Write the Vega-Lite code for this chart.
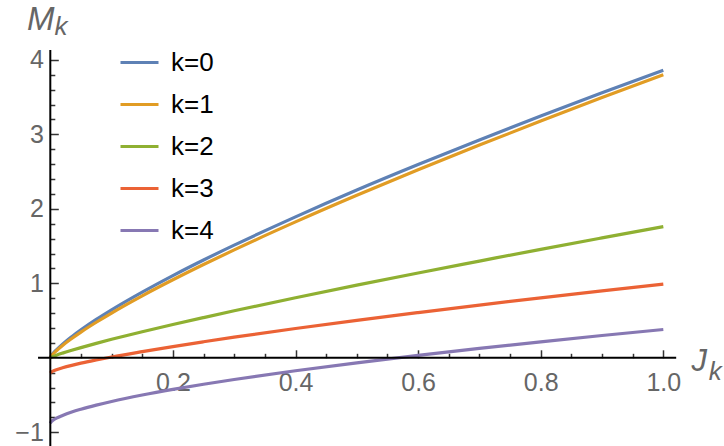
{
  "$schema": "https://vega.github.io/schema/vega-lite/v6.json",
  "width": 724,
  "height": 446,
  "padding": 0,
  "autosize": {"type": "none"},
  "background": "white",
  "config": {"view": {"stroke": null}, "font": "Liberation Sans"},
  "resolve": {"axis": {"x": "independent", "y": "independent"}},
  "datasets": {
    "curves": [
      {"J": 0, "M": 0, "k": "k=0"}, {"J": 0.001, "M": 0.018, "k": "k=0"}, {"J": 0.005, "M": 0.063, "k": "k=0"}, {"J": 0.01, "M": 0.107, "k": "k=0"}, {"J": 0.02, "M": 0.184, "k": "k=0"}, {"J": 0.035, "M": 0.284, "k": "k=0"}, {"J": 0.05, "M": 0.375, "k": "k=0"}, {"J": 0.075, "M": 0.515, "k": "k=0"}, {"J": 0.1, "M": 0.644, "k": "k=0"}, {"J": 0.15, "M": 0.882, "k": "k=0"}, {"J": 0.2, "M": 1.104, "k": "k=0"}, {"J": 0.25, "M": 1.313, "k": "k=0"}, {"J": 0.3, "M": 1.512, "k": "k=0"}, {"J": 0.4, "M": 1.892, "k": "k=0"}, {"J": 0.5, "M": 2.252, "k": "k=0"}, {"J": 0.6, "M": 2.594, "k": "k=0"}, {"J": 0.7, "M": 2.924, "k": "k=0"}, {"J": 0.8, "M": 3.245, "k": "k=0"}, {"J": 0.9, "M": 3.557, "k": "k=0"}, {"J": 1.0, "M": 3.86, "k": "k=0"},
      {"J": 0, "M": 0, "k": "k=1"}, {"J": 0.001, "M": 0.015, "k": "k=1"}, {"J": 0.005, "M": 0.055, "k": "k=1"}, {"J": 0.01, "M": 0.095, "k": "k=1"}, {"J": 0.02, "M": 0.166, "k": "k=1"}, {"J": 0.035, "M": 0.259, "k": "k=1"}, {"J": 0.05, "M": 0.345, "k": "k=1"}, {"J": 0.075, "M": 0.477, "k": "k=1"}, {"J": 0.1, "M": 0.601, "k": "k=1"}, {"J": 0.15, "M": 0.832, "k": "k=1"}, {"J": 0.2, "M": 1.047, "k": "k=1"}, {"J": 0.25, "M": 1.252, "k": "k=1"}, {"J": 0.3, "M": 1.449, "k": "k=1"}, {"J": 0.4, "M": 1.824, "k": "k=1"}, {"J": 0.5, "M": 2.181, "k": "k=1"}, {"J": 0.6, "M": 2.524, "k": "k=1"}, {"J": 0.7, "M": 2.855, "k": "k=1"}, {"J": 0.8, "M": 3.178, "k": "k=1"}, {"J": 0.9, "M": 3.493, "k": "k=1"}, {"J": 1.0, "M": 3.80, "k": "k=1"},
      {"J": 0, "M": 0, "k": "k=2"}, {"J": 0.001, "M": 0.005, "k": "k=2"}, {"J": 0.005, "M": 0.019, "k": "k=2"}, {"J": 0.01, "M": 0.035, "k": "k=2"}, {"J": 0.02, "M": 0.063, "k": "k=2"}, {"J": 0.035, "M": 0.101, "k": "k=2"}, {"J": 0.05, "M": 0.137, "k": "k=2"}, {"J": 0.075, "M": 0.194, "k": "k=2"}, {"J": 0.1, "M": 0.248, "k": "k=2"}, {"J": 0.15, "M": 0.350, "k": "k=2"}, {"J": 0.2, "M": 0.447, "k": "k=2"}, {"J": 0.25, "M": 0.540, "k": "k=2"}, {"J": 0.3, "M": 0.631, "k": "k=2"}, {"J": 0.4, "M": 0.806, "k": "k=2"}, {"J": 0.5, "M": 0.975, "k": "k=2"}, {"J": 0.6, "M": 1.139, "k": "k=2"}, {"J": 0.7, "M": 1.298, "k": "k=2"}, {"J": 0.8, "M": 1.456, "k": "k=2"}, {"J": 0.9, "M": 1.609, "k": "k=2"}, {"J": 1.0, "M": 1.76, "k": "k=2"},
      {"J": 0, "M": -0.205, "k": "k=3"}, {"J": 0.001, "M": -0.196, "k": "k=3"}, {"J": 0.005, "M": -0.176, "k": "k=3"}, {"J": 0.01, "M": -0.16, "k": "k=3"}, {"J": 0.02, "M": -0.134, "k": "k=3"}, {"J": 0.035, "M": -0.101, "k": "k=3"}, {"J": 0.05, "M": -0.072, "k": "k=3"}, {"J": 0.075, "M": -0.029, "k": "k=3"}, {"J": 0.1, "M": 0.011, "k": "k=3"}, {"J": 0.15, "M": 0.083, "k": "k=3"}, {"J": 0.2, "M": 0.151, "k": "k=3"}, {"J": 0.25, "M": 0.215, "k": "k=3"}, {"J": 0.3, "M": 0.277, "k": "k=3"}, {"J": 0.4, "M": 0.393, "k": "k=3"}, {"J": 0.5, "M": 0.503, "k": "k=3"}, {"J": 0.6, "M": 0.607, "k": "k=3"}, {"J": 0.7, "M": 0.708, "k": "k=3"}, {"J": 0.8, "M": 0.805, "k": "k=3"}, {"J": 0.9, "M": 0.899, "k": "k=3"}, {"J": 1.0, "M": 0.99, "k": "k=3"},
      {"J": 0, "M": -0.88, "k": "k=4"}, {"J": 0.001, "M": -0.864, "k": "k=4"}, {"J": 0.005, "M": -0.836, "k": "k=4"}, {"J": 0.01, "M": -0.811, "k": "k=4"}, {"J": 0.02, "M": -0.774, "k": "k=4"}, {"J": 0.035, "M": -0.728, "k": "k=4"}, {"J": 0.05, "M": -0.690, "k": "k=4"}, {"J": 0.075, "M": -0.635, "k": "k=4"}, {"J": 0.1, "M": -0.586, "k": "k=4"}, {"J": 0.15, "M": -0.500, "k": "k=4"}, {"J": 0.2, "M": -0.424, "k": "k=4"}, {"J": 0.25, "M": -0.355, "k": "k=4"}, {"J": 0.3, "M": -0.291, "k": "k=4"}, {"J": 0.4, "M": -0.174, "k": "k=4"}, {"J": 0.5, "M": -0.067, "k": "k=4"}, {"J": 0.6, "M": 0.032, "k": "k=4"}, {"J": 0.7, "M": 0.126, "k": "k=4"}, {"J": 0.8, "M": 0.214, "k": "k=4"}, {"J": 0.9, "M": 0.299, "k": "k=4"}, {"J": 1.0, "M": 0.38, "k": "k=4"}
    ],
    "one": [{}]
  },
  "layer": [
    {
      "data": {"name": "curves"},
      "mark": {"type": "line", "strokeWidth": 3.2, "interpolate": "monotone", "clip": false},
      "encoding": {
        "x": {
          "field": "J", "type": "quantitative",
          "scale": {"domain": [-0.08206, 1.099], "nice": false, "zero": false},
          "axis": {
            "orient": "bottom", "offset": -88.2, "domain": false, "grid": false,
            "values": [0.2, 0.4, 0.6, 0.8, 1.0],
            "tickSize": -8, "tickColor": "#333333", "tickWidth": 1.5,
            "format": ".1f",
            "labelFontSize": 25, "labelColor": "#666666", "labelPadding": 21,
            "labelFlush": false, "labelOverlap": false, "title": null
          }
        },
        "y": {
          "field": "M", "type": "quantitative",
          "scale": {"domain": [-1.1839, 4.8027], "nice": false, "zero": false},
          "axis": {
            "orient": "left", "offset": -50.3, "domain": false, "grid": false,
            "values": [-1, 1, 2, 3, 4],
            "tickSize": -8, "tickColor": "#333333", "tickWidth": 1.5,
            "labelExpr": "datum.value<0 ? '\u2212'+abs(datum.value) : ''+datum.value",
            "labelFontSize": 25, "labelColor": "#666666", "labelPadding": 15,
            "labelFlush": false, "labelOverlap": false, "title": null
          }
        },
        "color": {
          "field": "k", "type": "nominal",
          "scale": {"domain": ["k=0", "k=1", "k=2", "k=3", "k=4"], "range": ["#5E81B5", "#E19C24", "#8FB032", "#EB6235", "#8778B3"]},
          "legend": {
            "orient": "none", "legendX": 119, "legendY": 42, "title": null,
            "symbolType": "stroke", "symbolSize": 1444, "symbolStrokeWidth": 3,
            "labelFontSize": 26, "labelColor": "black", "labelFont": "Liberation Sans",
            "rowPadding": 8, "labelOffset": 11
          }
        }
      }
    },
    {
      "data": {"name": "one"},
      "mark": {"type": "rule", "color": "black", "strokeWidth": 2},
      "encoding": {
        "x": {"datum": -0.02, "type": "quantitative", "scale": {"domain": [-0.08206, 1.099], "nice": false, "zero": false},
          "axis": {
            "orient": "bottom", "offset": -88.2, "domain": false, "grid": false,
            "values": [0.05, 0.1, 0.15, 0.25, 0.3, 0.35, 0.45, 0.5, 0.55, 0.65, 0.7, 0.75, 0.85, 0.9, 0.95],
            "tickSize": -4.5, "tickColor": "#333333", "tickWidth": 1.5,
            "labels": false, "title": null
          }
        },
        "x2": {"datum": 1.021},
        "y": {"datum": 0, "type": "quantitative", "scale": {"domain": [-1.1839, 4.8027], "nice": false, "zero": false},
          "axis": {
            "orient": "left", "offset": -50.3, "domain": false, "grid": false,
            "values": [-0.8, -0.6, -0.4, -0.2, 0.2, 0.4, 0.6, 0.8, 1.2, 1.4, 1.6, 1.8, 2.2, 2.4, 2.6, 2.8, 3.2, 3.4, 3.6, 3.8],
            "tickSize": -4.5, "tickColor": "#333333", "tickWidth": 1.5,
            "labels": false, "title": null
          }
        }
      }
    },
    {
      "data": {"name": "one"},
      "mark": {"type": "rule", "color": "black", "strokeWidth": 2},
      "encoding": {
        "x": {"datum": 0, "type": "quantitative", "scale": {"domain": [-0.08206, 1.099], "nice": false, "zero": false}, "axis": null},
        "y": {"datum": 4.13, "type": "quantitative", "scale": {"domain": [-1.1839, 4.8027], "nice": false, "zero": false}, "axis": null},
        "y2": {"datum": -1.1839}
      }
    },
    {
      "data": {"name": "one"},
      "mark": {"type": "text", "text": "M", "align": "left", "baseline": "alphabetic", "fontStyle": "italic", "fontSize": 33, "color": "#666666", "font": "Liberation Sans"},
      "encoding": {
        "x": {"datum": -0.038, "type": "quantitative", "scale": {"domain": [-0.08206, 1.099], "nice": false, "zero": false}, "axis": null},
        "y": {"datum": 4.40, "type": "quantitative", "scale": {"domain": [-1.1839, 4.8027], "nice": false, "zero": false}, "axis": null}
      }
    },
    {
      "data": {"name": "one"},
      "mark": {"type": "text", "text": "k", "align": "left", "baseline": "alphabetic", "fontStyle": "italic", "fontSize": 26, "color": "#666666", "font": "Liberation Sans"},
      "encoding": {
        "x": {"datum": 0.007, "type": "quantitative", "scale": {"domain": [-0.08206, 1.099], "nice": false, "zero": false}, "axis": null},
        "y": {"datum": 4.333, "type": "quantitative", "scale": {"domain": [-1.1839, 4.8027], "nice": false, "zero": false}, "axis": null}
      }
    },
    {
      "data": {"name": "one"},
      "mark": {"type": "text", "text": "J", "align": "left", "baseline": "alphabetic", "fontStyle": "italic", "fontSize": 31, "color": "#666666", "font": "Liberation Sans"},
      "encoding": {
        "x": {"datum": 1.046, "type": "quantitative", "scale": {"domain": [-0.08206, 1.099], "nice": false, "zero": false}, "axis": null},
        "y": {"datum": -0.177, "type": "quantitative", "scale": {"domain": [-1.1839, 4.8027], "nice": false, "zero": false}, "axis": null}
      }
    },
    {
      "data": {"name": "one"},
      "mark": {"type": "text", "text": "k", "align": "left", "baseline": "alphabetic", "fontStyle": "italic", "fontSize": 26, "color": "#666666", "font": "Liberation Sans"},
      "encoding": {
        "x": {"datum": 1.074, "type": "quantitative", "scale": {"domain": [-0.08206, 1.099], "nice": false, "zero": false}, "axis": null},
        "y": {"datum": -0.298, "type": "quantitative", "scale": {"domain": [-1.1839, 4.8027], "nice": false, "zero": false}, "axis": null}
      }
    }
  ]
}
